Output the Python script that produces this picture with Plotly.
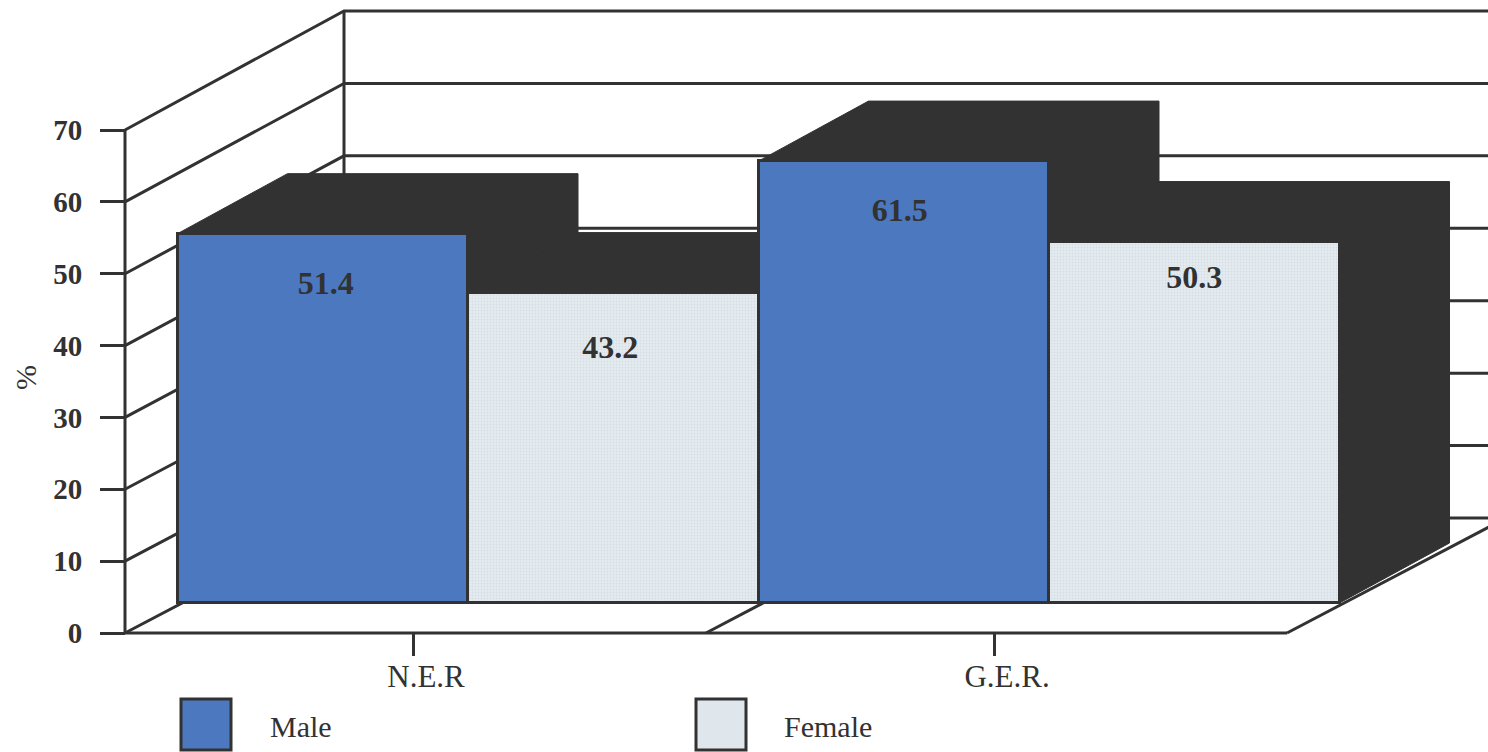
import plotly.graph_objects as go

# Chart data
categories = ["N.E.R", "G.E.R."]
male = [51.4, 61.5]
female = [43.2, 50.3]
y_ticks = [0, 10, 20, 30, 40, 50, 60, 70]

INK = "#323232"
BLUE = "#4c78bf"
PALE = "#dfe7ec"
SERIF = "Liberation Serif"
LINE = 3

# Page geometry of the plotting frame
W, H = 1488, 752
PX_X0, PX_CAT = 413, 581          # pixel of first category, pixels per category
PX_Y0, PX_Y70 = 633, 130
PX_AXIS = 125                     # pixel column of the value axis
PX_UNIT = (PX_Y0 - PX_Y70) / 70


def ux(px):
    return px / PX_CAT


# Pseudo-3D projection, expressed in axis units
FLOOR_LIFT = 30 / PX_UNIT         # bar fronts stand this far up the axis
BAR_SHIFT = ux(55)                # and this far to the right of the tick
BAR_W = 0.5
DEPTH_X = ux(110)                 # receding faces of the bars
DEPTH_Y = 60 / PX_UNIT
WALL_X = ux(219)                  # back wall relative to the front plane


def wall_y(v):
    return 16.0 + 1.008 * v


# The axes span the whole page; their lines and ticks are placed by `position`
x_range = [-PX_X0 / PX_CAT, (W - PX_X0) / PX_CAT]
y_range = [-(H - PX_Y0) / PX_UNIT, PX_Y0 / PX_UNIT]
xmin = (PX_AXIS - PX_X0) / PX_CAT
xmax = x_range[1]
front_end = xmin + len(categories)

fig = go.Figure()


def line(xs, ys):
    fig.add_trace(go.Scatter(x=xs, y=ys, mode="lines",
                             line=dict(color=INK, width=LINE),
                             showlegend=False, hoverinfo="skip"))


# Wall gridlines, the vertical back edge and the value axis itself
for v in y_ticks:
    line([xmin, xmin + WALL_X, xmax], [v, wall_y(v), wall_y(v)])
line([xmin + WALL_X] * 2, [wall_y(0), wall_y(70)])
line([xmin, xmin], [0, 70])

# Floor: front edge, divider between the categories, right-hand edge
line([xmin, front_end], [0, 0])
line([xmin + 1, xmin + 1 + WALL_X], [0, wall_y(0)])
line([front_end, front_end + WALL_X], [0, wall_y(0)])

# Dark receding faces of the bars
centres = [i + BAR_SHIFT for i in range(len(categories))]
for series, side in ((male, -1), (female, 1)):
    for c, v in zip(centres, series):
        left = c + (side - 1) * BAR_W / 2
        right = left + BAR_W
        top = FLOOR_LIFT + v
        fig.add_trace(go.Scatter(
            x=[left, left + DEPTH_X, right + DEPTH_X, right + DEPTH_X, right, left],
            y=[top, top + DEPTH_Y, top + DEPTH_Y, FLOOR_LIFT + DEPTH_Y, FLOOR_LIFT, top],
            mode="lines", fill="toself", fillcolor=INK,
            line=dict(color=INK, width=1),
            showlegend=False, hoverinfo="skip"))

# Front faces sit on an overlaid pair of axes so they cover the dark faces
fig.add_trace(go.Bar(
    x=[c - BAR_W / 2 for c in centres], y=male, base=[FLOOR_LIFT] * len(male),
    width=BAR_W, name="Male", xaxis="x2", yaxis="y2",
    marker=dict(color=BLUE, line=dict(color=INK, width=3)), showlegend=False))
fig.add_trace(go.Bar(
    x=[c + BAR_W / 2 for c in centres], y=female, base=[FLOOR_LIFT] * len(female),
    width=BAR_W, name="Female", xaxis="x2", yaxis="y2",
    marker=dict(color=PALE, line=dict(color=INK, width=3),
                pattern=dict(shape=".", size=3, solidity=0.3,
                             fgcolor="#c6d2db", bgcolor="#e4ebef")),
    showlegend=False))

# Value labels, each dropped below the top of its bar and nudged sideways
label_x = [centres[0] - BAR_W / 2, centres[0] + BAR_W / 2,
           centres[1] - BAR_W / 2, centres[1] + BAR_W / 2]
label_v = [male[0], female[0], male[1], female[1]]
label_drop = [52, 57, 52, 38]
label_nudge = [3, -3, -4, 0]
fig.add_trace(go.Scatter(
    x=[x + ux(n) for x, n in zip(label_x, label_nudge)],
    y=[FLOOR_LIFT + v - d / PX_UNIT for v, d in zip(label_v, label_drop)],
    text=[str(v) for v in label_v], mode="text", textposition="middle center",
    textfont=dict(family=SERIF, size=32, color=INK, weight="bold"),
    xaxis="x2", yaxis="y2",
    showlegend=False, hoverinfo="skip"))

fig.update_layout(
    width=W, height=H, autosize=False,
    margin=dict(l=0, r=0, t=0, b=0, autoexpand=False),
    paper_bgcolor="white", plot_bgcolor="rgba(0,0,0,0)",
    barmode="overlay", bargap=0,
    xaxis=dict(domain=[0, 1], range=x_range, anchor="free",
               position=(H - PX_Y0) / H, tickmode="array",
               tickvals=list(range(len(categories))), ticktext=categories,
               ticks="outside", ticklen=22, tickwidth=LINE, tickcolor=INK,
               showline=False, showgrid=False, zeroline=False,
               ticklabelshift=13, ticklabelstandoff=-6,
               tickfont=dict(family=SERIF, size=31, color=INK)),
    yaxis=dict(domain=[0, 1], range=y_range, anchor="free",
               position=PX_AXIS / W, tickmode="array", tickvals=y_ticks,
               ticks="outside", ticklen=25, tickwidth=LINE, tickcolor=INK,
               showline=False, showgrid=False, zeroline=False,
               ticklabelstandoff=12,
               tickfont=dict(family=SERIF, size=29, color=INK, weight="bold")),
    xaxis2=dict(domain=[0, 1], range=x_range, overlaying="x", visible=False),
    yaxis2=dict(domain=[0, 1], range=y_range, overlaying="y", visible=False),
)

# Axis unit, set beside the value axis
fig.add_annotation(xref="paper", yref="paper", x=25 / W, y=(H - 378) / H,
                   text="%", textangle=-90, showarrow=False,
                   xanchor="center", yanchor="middle",
                   font=dict(family=SERIF, size=30, color=INK))

# Legend keys
legend = [("Male", BLUE, 181, 268), ("Female", PALE, 696, 782)]
for label, colour, left, text_x in legend:
    fig.add_shape(type="rect", xref="paper", yref="paper",
                  x0=left / W, x1=(left + 50) / W,
                  y0=(H - 750) / H, y1=(H - 699) / H,
                  fillcolor=colour, line=dict(color=INK, width=3))
    fig.add_annotation(xref="paper", yref="paper", x=text_x / W, y=(H - 726) / H,
                       text=label, showarrow=False, xanchor="left", yanchor="middle",
                       font=dict(family=SERIF, size=30, color=INK))

fig.write_html("out.html", config=dict(displayModeBar=False))
